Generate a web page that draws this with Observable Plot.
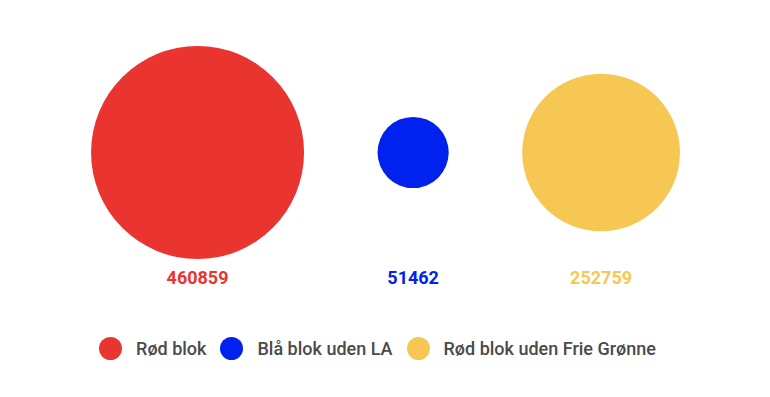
<!DOCTYPE html>
<html>
<head>
<meta charset="utf-8">
<script src="https://cdn.jsdelivr.net/npm/d3@7"></script>
<script src="https://cdn.jsdelivr.net/npm/@observablehq/plot@0.6"></script>
<style>
  html, body { margin: 0; padding: 0; background: #fff; }
  body { width: 770px; height: 397px; overflow: hidden; font-family: Roboto, sans-serif; }
  #legend { display: flex; justify-content: center; align-items: center; height: 46px; margin-left: -15px;
            font-family: Roboto, sans-serif; font-size: 18px; font-weight: 500; color: #4a4a4a; }
  #legend .item { display: flex; align-items: center; margin: 0 7px; }
  #legend .sw { width: 23px; height: 23px; border-radius: 50%; margin-right: 14px; }
</style>
</head>
<body>
<div id="chart"></div>
<div id="legend"></div>
<script>
const categories = ["Rød blok", "Blå blok uden LA", "Rød blok uden Frie Grønne"];
const values = [460859, 51462, 252759];
const colors = ["#E9342F", "#0021EE", "#F7C753"];

const W = 770, H = 325, maxR = 106.5, gap = 73.5;
const rScale = d3.scaleSqrt().domain([0, d3.max(values)]).range([0, maxR]);
const radii = values.map(v => rScale(v));
const total = d3.sum(radii) * 2 + gap * (values.length - 1);
let cursor = (W - total) / 2;
const data = categories.map((c, i) => {
  const cx = cursor + radii[i];
  cursor += radii[i] * 2 + gap;
  return { category: c, value: values[i], color: colors[i], cx };
});

const chart = Plot.plot({
  width: W,
  height: H,
  marginTop: 0,
  marginLeft: 0,
  marginRight: 0,
  marginBottom: 21,
  x: { type: "identity", axis: null },
  r: { type: "sqrt", domain: [0, d3.max(values)], range: [0, maxR] },
  style: { fontFamily: "Roboto, sans-serif", background: "#fff" },
  marks: [
    Plot.dot(data, { x: "cx", r: "value", fill: "color", frameAnchor: "middle" }),
    Plot.text(data, {
      x: "cx", text: d => String(d.value), fill: "color",
      frameAnchor: "bottom", lineAnchor: "bottom", dy: -21,
      fontSize: 18, fontWeight: 700
    })
  ]
});
document.getElementById("chart").appendChild(chart);

const legend = document.getElementById("legend");
categories.forEach((c, i) => {
  const item = document.createElement("div");
  item.className = "item";
  const sw = document.createElement("span");
  sw.className = "sw";
  sw.style.background = colors[i];
  const label = document.createElement("span");
  label.textContent = c;
  item.appendChild(sw);
  item.appendChild(label);
  legend.appendChild(item);
});
</script>
</body>
</html>
